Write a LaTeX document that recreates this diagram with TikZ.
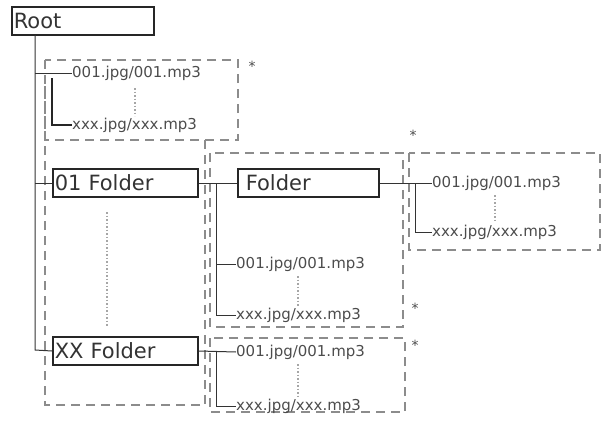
\documentclass[tikz,border=0pt]{standalone}
\usepackage{fontspec}
\setmainfont{DejaVu Sans}
\begin{document}
\begin{tikzpicture}[x=1pt,y=-1pt,
  box/.style={draw=black!85,line width=1.6pt,minimum height=28pt,anchor=west,inner sep=0pt,text=black!80,font=\fontsize{21}{21}\selectfont},
  file/.style={anchor=west,inner sep=0pt,text=black!70,font=\fontsize{15}{15}\selectfont},
  dbox/.style={draw=black!45,line width=2.2pt,dash pattern=on 9pt off 6pt},
  ln/.style={draw=black!80,line width=1pt},
  dot/.style={draw=black!35,line width=1.5pt,dash pattern=on 1.5pt off 2pt},
  star/.style={inner sep=0pt,text=black!70,font=\fontsize{14}{14}\selectfont}]
\useasboundingbox (0,0) rectangle (607,420);
% dashed boxes
\draw[dbox] (45,60) rectangle (238,140);
\draw[dbox] (205,140) -- (205,405) -- (45,405) -- (45,75);
\draw[dbox] (210,153) rectangle (403,327);
\draw[dbox] (409,153) rectangle (600,250);
\draw[dbox] (210,338) rectangle (405,412);
\node[star] (s1) at (252,66) {*};
\node[star] (s2) at (413,135) {*};
\node[star] (s3) at (415,308) {*};
\node[star] (s4) at (415,345) {*};
% boxes
\node[box,minimum width=142pt,text width=138pt,align=left] (root) at (11,21) {Root};
\node[box,minimum width=145pt,text width=141pt,align=left] (f01) at (52,183) {01 Folder};
\node[box,minimum width=145pt,text width=141pt,align=left] (fxx) at (52,351) {XX Folder};
\node[box,minimum width=141pt,text width=125pt,align=left] (fold) at (237,183) {Folder};
% files
\node[file] (a1) at (72,73) {001.jpg/001.mp3};
\node[file] (a2) at (72,125) {xxx.jpg/xxx.mp3};
\node[file] (b1) at (236,264) {001.jpg/001.mp3};
\node[file] (b2) at (236,315) {xxx.jpg/xxx.mp3};
\node[file] (c1) at (432,183) {001.jpg/001.mp3};
\node[file] (c2) at (432,232) {xxx.jpg/xxx.mp3};
\node[file] (d1) at (236,352) {001.jpg/001.mp3};
\node[file] (d2) at (236,406) {xxx.jpg/xxx.mp3};
\coordinate (t0) at (35,35);
\coordinate (t1) at (35,350);
\coordinate (j2) at (415,183);
% trunk
\draw[ln] (t0) -- (t1) -- (fxx.west);
\draw[ln] (35,73) -- (a1.west);
\draw[ln] (35,183) -- (f01.west);
\draw[draw=black!85,line width=2.5pt] (52,78) -- (52,125) -- (a2.west);
\draw[ln] (f01.east) -- (fold.west);
\draw[ln] (216,183) -- (216,315) -- (b2.west);
\draw[ln] (216,264) -- (b1.west);
\draw[ln] (fold.east) -- (c1.west);
\draw[ln] (j2) -- (415,232) -- (c2.west);
\draw[ln] (fxx.east) -- (d1.west);
\draw[ln] (216,352) -- (216,406) -- (d2.west);
% dotted
\draw[dot] (135,88) -- (135,116);
\draw[dot] (107,212) -- (107,326);
\draw[dot] (298,276) -- (298,306);
\draw[dot] (495,195) -- (495,222);
\draw[dot] (298,364) -- (298,396);
\end{tikzpicture}
\end{document}
